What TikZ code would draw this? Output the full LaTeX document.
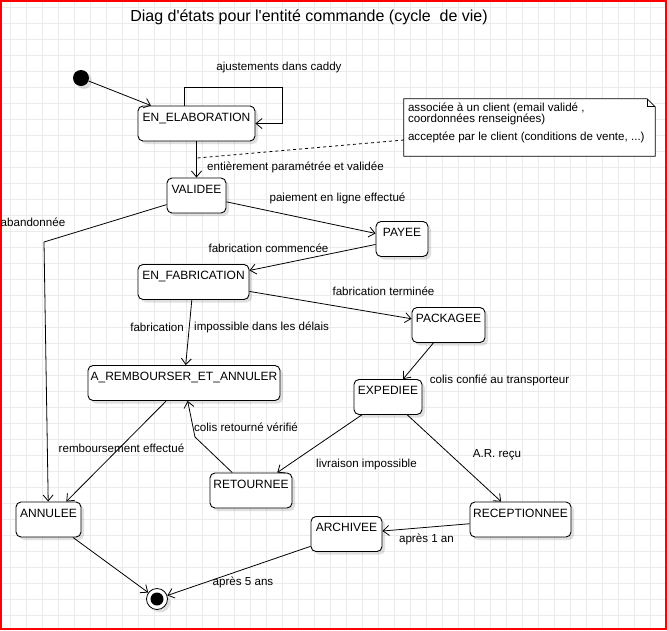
\documentclass[tikz,border=0pt]{standalone}
\usepackage{fontspec}
\setmainfont{Liberation Sans}
\usetikzlibrary{arrows.meta,shadows}

\begin{document}
\begin{tikzpicture}[x=1pt, y=-1pt,
    stt/.style={draw, rounded corners=5pt, fill=white, line width=0.9pt, inner xsep=2pt, inner ysep=3pt, text height=12pt, text depth=17pt, font=\fontsize{12}{14}\selectfont, drop shadow={shadow xshift=3pt, shadow yshift=-3pt, fill=black, opacity=0.12}},
    arr/.style={-{Straight Barb[length=6pt, width=10pt]}, line width=0.8pt},
    lbl/.style={font=\fontsize{11.6}{13}\selectfont, inner sep=1pt},
    gridln/.style={draw=black!8, line width=1pt}
]
\useasboundingbox (0,0) rectangle (667,630);
% grille de fond
\foreach \i in {0,...,41} \draw[gridln] ({10.7+16*\i},0) -- ({10.7+16*\i},630);
\foreach \i in {0,...,38} \draw[gridln] (0,{7.3+16*\i}) -- (667,{7.3+16*\i});
\draw[red, line width=2.4pt] (1.2,1.2) rectangle (665.8,628.8);

\node[font=\fontsize{16}{18}\selectfont] (title) at (309,17) {Diag d\textquotesingle états pour l\textquotesingle entité commande (cycle \ de vie)};

% etats
\node[circle, fill=black, minimum size=16pt, inner sep=0pt, drop shadow={shadow xshift=3pt, shadow yshift=-3pt, fill=black, opacity=0.12}] (init) at (81,78) {};
\node[stt, minimum width=117pt] (elab) at (196.5,123.5) {EN\_ELABORATION};
\node[stt, minimum width=59pt] (valid) at (196.5,195.5) {VALIDEE};
\node[stt, minimum width=52pt] (payee) at (402,239) {PAYEE};
\node[stt, minimum width=111pt] (fabr) at (193.5,282) {EN\_FABRICATION};
\node[stt, minimum width=73pt] (pack) at (448.5,325) {PACKAGEE};
\node[stt, minimum width=192pt] (remb) at (184,383) {A\_REMBOURSER\_ET\_ANNULER};
\node[stt, minimum width=68pt] (exped) at (388,397) {EXPEDIEE};
\node[stt, minimum width=82pt] (retour) at (251,490.5) {RETOURNEE};
\node[stt, minimum width=65pt] (annul) at (48.5,519.5) {ANNULEE};
\node[stt, minimum width=101pt] (recep) at (520.5,519.5) {RECEPTIONNEE};
\node[stt, minimum width=71pt] (archiv) at (346.5,534) {ARCHIVEE};
\node[circle, draw, fill=white, line width=0.8pt, minimum size=21pt, inner sep=0pt, drop shadow={shadow xshift=3pt, shadow yshift=-3pt, fill=black, opacity=0.12}] (fin) at (157,599) {};
\fill (fin) circle (6.5pt);

% note
\node[minimum width=251pt, minimum height=57pt, inner sep=0pt] (note) at (529.5,127.5) {};
\draw[line width=0.8pt, fill=white] (note.north west) -- ([xshift=-8pt]note.north east) -- ([yshift=-8pt]note.north east) -- (note.south east) -- (note.south west) -- cycle;
\draw[line width=0.8pt] ([xshift=-8pt]note.north east) -- ([xshift=-8pt, yshift=-8pt]note.north east) -- ([yshift=-8pt]note.north east);
\node[lbl, anchor=north west, align=left, font=\fontsize{11.6}{10}\selectfont] (notetxt) at ([xshift=3pt, yshift=-2.5pt]note.north west) {associée à un client (email validé ,\\coordonnées renseignées)\\[6pt]acceptée par le client (conditions de vente, ...)};

% transitions
\coordinate (loop) at (282,87);
\coordinate (aband) at (44,242);
\coordinate (retbend) at (195,437);
\draw[arr] (init) -- (elab);
\draw[arr] ([xshift=-12.5pt]elab.north) |- (loop) |- (elab.east);
\draw[arr] (elab) -- coordinate[pos=0.46] (notepin) (valid);
\draw[dash pattern=on 3pt off 3pt, line width=0.8pt] ([yshift=-12.5pt]note.west) -- (notepin);
\draw[arr] (valid) -- (payee);
\draw[arr] (valid) -- (aband) -- (annul);
\draw[arr] (payee) -- (fabr);
\draw[arr] (fabr) -- (pack);
\draw[arr] (fabr) -- (remb);
\draw[arr] (pack) -- (exped);
\draw[arr] (exped) -- (retour);
\draw[arr] (exped) -- (recep);
\draw[arr] (retour) -- (retbend) -- (remb);
\draw[arr] (remb) -- (annul);
\draw[arr] (recep) -- (archiv);
\draw[arr] (archiv) -- (fin);
\draw[arr] (annul) -- (fin);

% libelles
\node[lbl] (lajust) at (279,67) {ajustements dans caddy};
\node[lbl, anchor=west] (lentier) at (206,167.5) {entièrement paramétrée et validée};
\node[lbl] (lpaie) at (337.5,198) {paiement en ligne effectué};
\node[lbl] (laband) at (33,222) {abandonnée};
\node[lbl] (lcomm) at (268.5,248) {fabrication commencée};
\node[lbl] (lterm) at (383.5,291) {fabrication terminée};
\node[lbl, anchor=east] (lfab) at (185,327) {fabrication};
\node[lbl, anchor=west] (limp) at (193,327) {impossible dans les délais};
\node[lbl] (lconf) at (499.5,380) {colis confié au transporteur};
\node[lbl] (lretv) at (246,427) {colis retourné vérifié};
\node[lbl] (lremb) at (121.5,448) {remboursement effectué};
\node[lbl] (lliv) at (366.5,464) {livraison impossible};
\node[lbl] (lar) at (497,455) {A.R. reçu};
\node[lbl] (lun) at (426.5,539) {après 1 an};
\node[lbl] (lcinq) at (243,582) {après 5 ans};
\end{tikzpicture}
\end{document}
